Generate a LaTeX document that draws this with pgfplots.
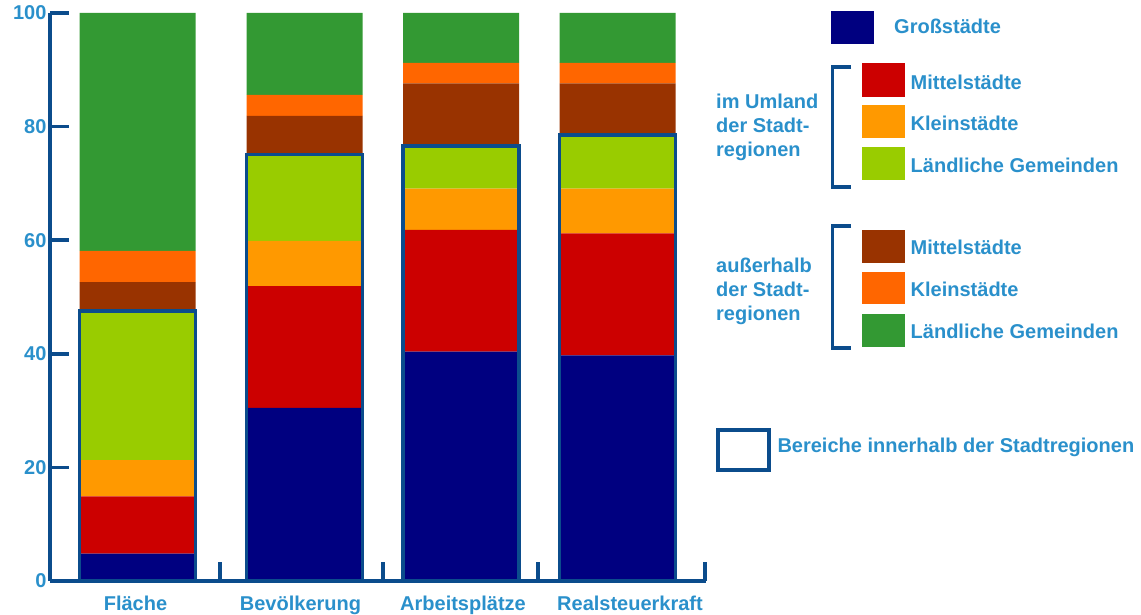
\documentclass[border=0pt]{standalone}
\usepackage{pgfplots}
\pgfplotsset{compat=1.18}
\usepackage{fontspec}
\setmainfont{Liberation Sans}
\definecolor{grossc}{HTML}{000080}
\definecolor{mittelU}{HTML}{CC0000}
\definecolor{kleinU}{HTML}{FF9900}
\definecolor{laendU}{HTML}{99CC00}
\definecolor{mittelA}{HTML}{993300}
\definecolor{kleinA}{HTML}{FF6600}
\definecolor{laendA}{HTML}{339933}
\definecolor{axisblue}{HTML}{0B4C8C}
\definecolor{textblue}{HTML}{2A90CB}
\newcommand\lf{\fontsize{20}{24}\selectfont\bfseries}
\begin{document}
\begin{tikzpicture}
\path[use as bounding box] (0,0) rectangle (1141pt,615pt);
\begin{axis}[
  at={(50pt,34pt)}, anchor=south west,
  scale only axis, width=656pt, height=568pt,
  xmin=50, xmax=706, ymin=0, ymax=100,
  axis x line*=bottom, axis y line*=left,
  axis line style={line width=4pt, color=axisblue},
  ybar stacked, bar width=116,
  ytick={0,20,40,60,80,100},
  xtick={220,383,538,705}, xticklabels={},
  extra x ticks={135.5,300.5,463,630},
  extra x tick labels={Fläche,Bevölkerung,Arbeitsplätze,Realsteuerkraft},
  extra x tick style={tick style={draw=none}},
  tick align=inside, major tick length=19pt,
  tick style={line width=3.5pt, color=axisblue},
  minor tick num=0,
  /pgf/number format/assume math mode=true,
  ticklabel style={font=\lf, text=textblue},
  xticklabel style={yshift=-11pt},
  clip=false,
]
\addplot[fill=grossc, draw=none] coordinates {(137.5,4.8) (304.5,30.5) (461,40.4) (617.5,39.7)};
\addplot[fill=mittelU, draw=none] coordinates {(137.5,10.1) (304.5,21.4) (461,21.4) (617.5,21.5)};
\addplot[fill=kleinU, draw=none] coordinates {(137.5,6.4) (304.5,8.0) (461,7.3) (617.5,7.9)};
\addplot[fill=laendU, draw=none] coordinates {(137.5,26.2) (304.5,15.2) (461,7.5) (617.5,9.4)};
\addplot[fill=mittelA, draw=none] coordinates {(137.5,5.1) (304.5,6.8) (461,11.0) (617.5,9.1)};
\addplot[fill=kleinA, draw=none] coordinates {(137.5,5.5) (304.5,3.7) (461,3.6) (617.5,3.6)};
\addplot[fill=laendA, draw=none] coordinates {(137.5,41.9) (304.5,14.4) (461,8.8) (617.5,8.8)};
\end{axis}
\begin{axis}[
  at={(50pt,34pt)}, anchor=south west,
  scale only axis, width=656pt, height=568pt,
  xmin=50, xmax=706, ymin=0, ymax=100,
  hide axis, ybar, bar width=116, bar shift=0pt, clip=false,
]
\addplot[draw=axisblue, fill=none, line width=3.5pt] coordinates {(137.5,47.5) (304.5,75.1) (461,76.6) (617.5,78.5)};
\end{axis}
\begin{scope}[x=1pt, y=-1pt, shift={(0,615pt)}]
  % Grossstaedte
  \fill[grossc] (831,11) rectangle (874,44);
  \node[anchor=base west, inner sep=0, text=textblue, font=\lf] at (894,33.3) {Großstädte};
  % Umland bracket
  \draw[axisblue, line width=3.8pt] (851,67) -- (832.5,67) -- (832.5,187) -- (851,187);
  \fill[mittelU] (862,63) rectangle (905,97);
  \fill[kleinU] (862,105) rectangle (905,138);
  \fill[laendU] (862,147) rectangle (905,180);
  \node[anchor=base west, inner sep=0, text=textblue, font=\lf] at (910.5,90) {Mittelstädte};
  \node[anchor=base west, inner sep=0, text=textblue, font=\lf] at (910.5,130.7) {Kleinstädte};
  \node[anchor=base west, inner sep=0, text=textblue, font=\lf] at (910.5,172.3) {Ländliche Gemeinden};
  \node[anchor=base west, inner sep=0, text=textblue, font=\lf] at (716,108.3) {im Umland};
  \node[anchor=base west, inner sep=0, text=textblue, font=\lf] at (716,132.7) {der Stadt-};
  \node[anchor=base west, inner sep=0, text=textblue, font=\lf] at (716,156.7) {regionen};
  % Ausserhalb bracket
  \draw[axisblue, line width=3.8pt] (851,226.3) -- (832.5,226.3) -- (832.5,347.7) -- (851,347.7);
  \fill[mittelA] (862,230) rectangle (905,263);
  \fill[kleinA] (862,272) rectangle (905,304);
  \fill[laendA] (862,314) rectangle (905,347);
  \node[anchor=base west, inner sep=0, text=textblue, font=\lf] at (910.5,255) {Mittelstädte};
  \node[anchor=base west, inner sep=0, text=textblue, font=\lf] at (910.5,296.7) {Kleinstädte};
  \node[anchor=base west, inner sep=0, text=textblue, font=\lf] at (910.5,338.3) {Ländliche Gemeinden};
  \node[anchor=base west, inner sep=0, text=textblue, font=\lf] at (716,272.7) {außerhalb};
  \node[anchor=base west, inner sep=0, text=textblue, font=\lf] at (716,296.7) {der Stadt-};
  \node[anchor=base west, inner sep=0, text=textblue, font=\lf] at (716,320.7) {regionen};
  % Bereiche box
  \draw[axisblue, line width=4pt] (718,430) rectangle (769,470);
  \node[anchor=base west, inner sep=0, text=textblue, font=\lf] at (777.3,452.3) {Bereiche innerhalb der Stadtregionen};
\end{scope}
\end{tikzpicture}
\end{document}
